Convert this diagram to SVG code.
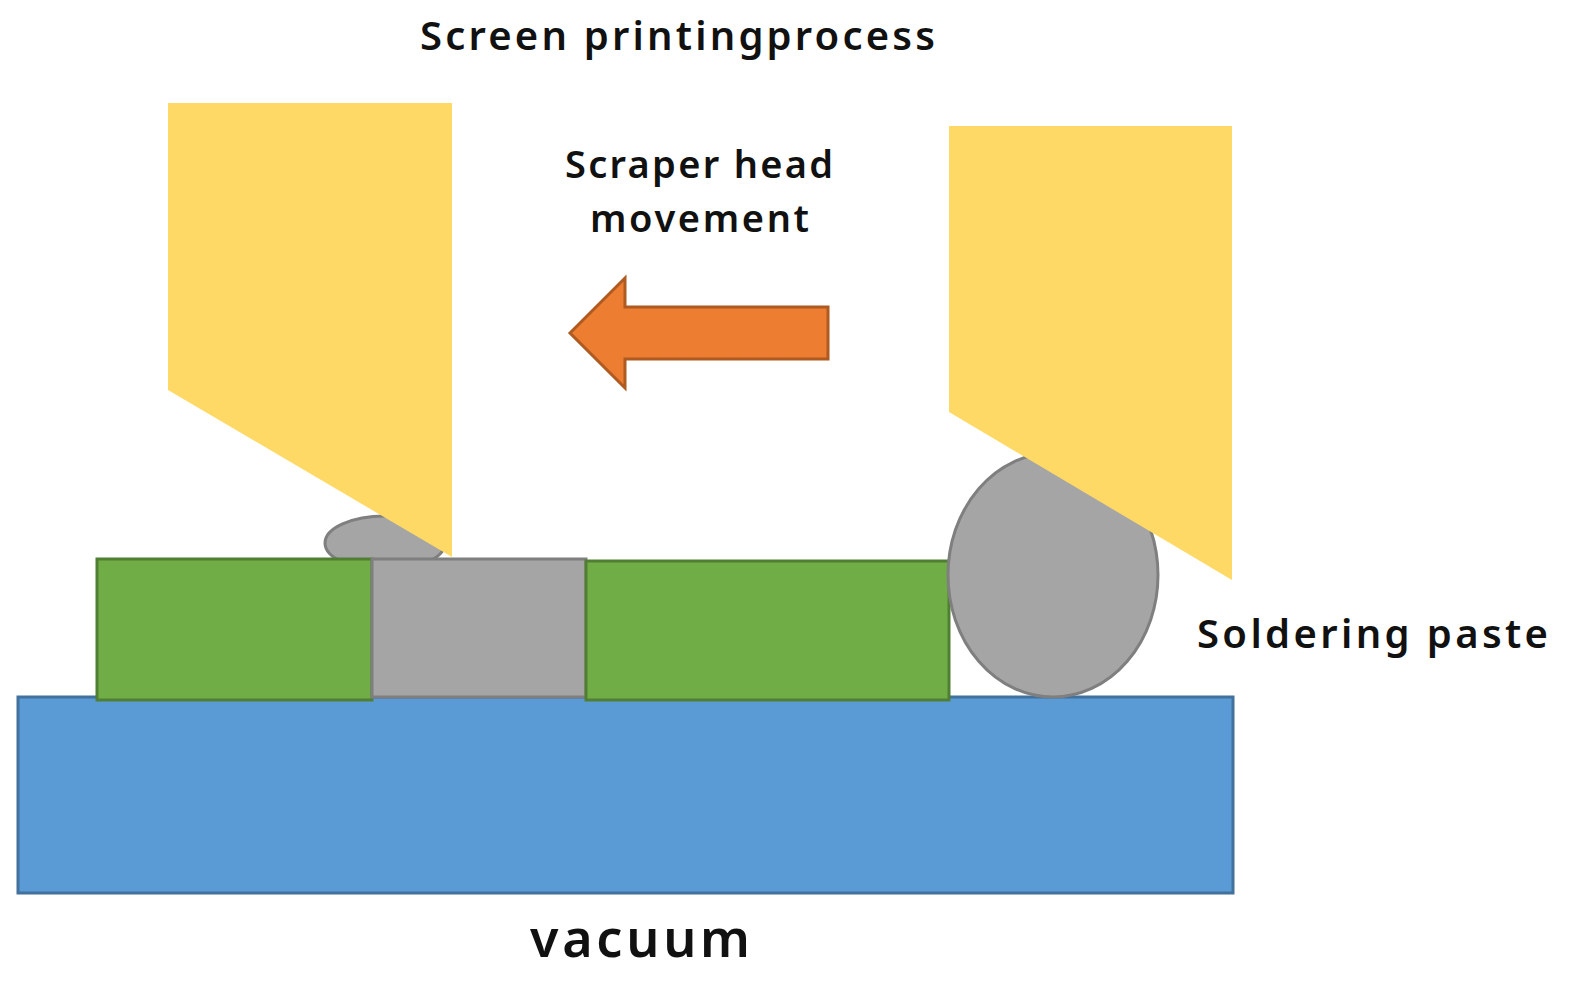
<svg xmlns="http://www.w3.org/2000/svg" width="1580" height="983" viewBox="0 0 1580 983">
<style>
text{font-family:"Noto Sans","Open Sans",sans-serif;font-weight:600;fill:#111}
.paste{fill:#a5a5a5;stroke:#7f7f7f;stroke-width:3}
.pad{fill:#70ad47;stroke:#507e32;stroke-width:3}
.scr{fill:#ffd966}
</style>
<rect width="1580" height="983" fill="#fff"/>
<rect x="18" y="697" width="1215" height="196" fill="#5b9bd5" stroke="#41719c" stroke-width="3"/>
<ellipse class="paste" cx="385" cy="543" rx="60" ry="27"/>
<rect class="pad" x="97" y="559" width="275" height="141"/>
<rect class="paste" x="372" y="559" width="214" height="138"/>
<rect class="pad" x="586" y="561" width="363" height="139"/>
<ellipse class="paste" cx="1053" cy="575" rx="105" ry="122"/>
<polygon class="scr" points="168,103 452,103 452,557 168,390"/>
<polygon class="scr" points="949,126 1232,126 1232,580 949,412"/>
<polygon points="570,333 625,278 625,307 828,307 828,359 625,359 625,388" fill="#ed7d31" stroke="#ae5a21" stroke-width="3"/>
<text x="420" y="50" font-size="40" textLength="515" lengthAdjust="spacing">Screen printingprocess</text>
<text x="565" y="178" font-size="38" textLength="268" lengthAdjust="spacing">Scraper head</text>
<text x="590" y="232" font-size="38" textLength="219" lengthAdjust="spacing">movement</text>
<text x="1197" y="648" font-size="40" textLength="351" lengthAdjust="spacing">Soldering paste</text>
<text x="530" y="957" font-size="52" textLength="220" lengthAdjust="spacing">vacuum</text>
</svg>
